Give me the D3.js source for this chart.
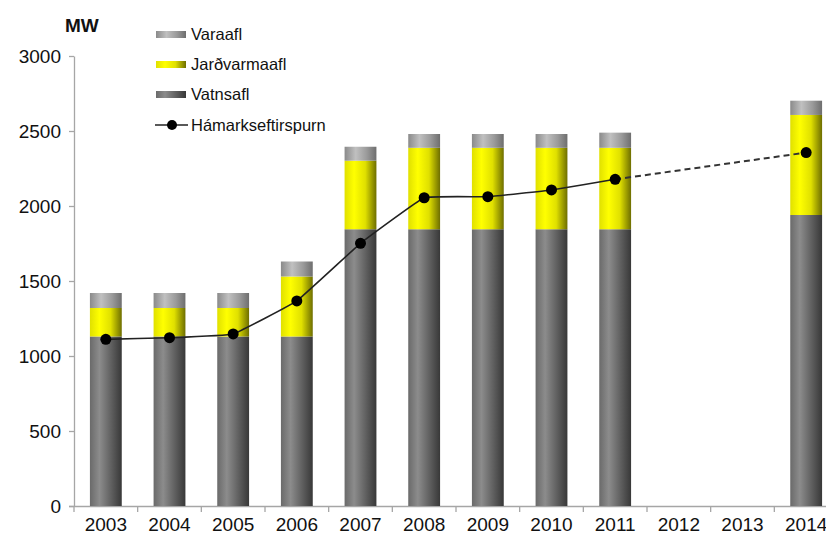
<!DOCTYPE html>
<html><head><meta charset="utf-8">
<script src="https://cdn.jsdelivr.net/npm/d3@7"></script>
<style>
body{margin:0;background:#fff;}
svg{display:block;font-family:"Liberation Sans",Arial,sans-serif;}
</style></head>
<body>
<svg id="c" width="826" height="538"></svg>
<script>
const years = ["2003","2004","2005","2006","2007","2008","2009","2010","2011","2012","2013","2014"];
const vatnsafl = [1130,1130,1130,1130,1845,1845,1845,1845,1845,null,null,1940];
const jardvarmaafl = [190,190,190,400,457,543,543,543,543,null,null,667];
const varaafl = [100,100,100,100,93,92,92,92,101,null,null,95];
const demand = [1111,1122,1147,1367,1751,2055,2062,2107,2178,null,null,2356];
const yTicks = [0,500,1000,1500,2000,2500,3000];
const seriesNames = ["Vatnsafl","Jarðvarmaafl","Varaafl"];
const demandName = "Hámarkseftirspurn";

const svg = d3.select("#c");
const defs = svg.append("defs");
function grad(id, stops){
  const g = defs.append("linearGradient").attr("id",id).attr("x1","0%").attr("x2","100%").attr("y1","0%").attr("y2","0%");
  stops.forEach(s=>g.append("stop").attr("offset",s[0]).attr("stop-color",s[1]));
}
grad("gDark",[["0%","#6a6a6a"],["30%","#8c8c8c"],["65%","#626262"],["100%","#383838"]]);
grad("gYellow",[["0%","#e0e000"],["30%","#ffff00"],["65%","#e0e000"],["100%","#6e6e00"]]);
grad("gLight",[["0%","#8a8a8a"],["35%","#c0c0c0"],["70%","#9a9a9a"],["100%","#6e6e6e"]]);
const fills = ["url(#gDark)","url(#gYellow)","url(#gLight)"];

const x = d3.scaleBand().domain(years).range([74,838]).paddingInner(0.5).paddingOuter(0.25);
const y = d3.scaleLinear().domain([0,3000]).range([506,56]);
const fs = 19;

// y axis
const ya = svg.append("g").attr("transform","translate(74,0)")
  .call(d3.axisLeft(y).tickValues(yTicks).tickFormat(d3.format("d")).tickSize(5).tickPadding(8).tickSizeOuter(0));
ya.select(".domain").attr("stroke","#a6a6a6").attr("stroke-width",1.3);
ya.selectAll(".tick line").attr("stroke","#a6a6a6").attr("stroke-width",1.3);
ya.selectAll(".tick text").attr("font-size",fs).attr("fill","#111").attr("font-family","Liberation Sans, Arial");

// x axis
const xa = svg.append("g").attr("transform","translate(0,506)")
  .call(d3.axisBottom(x).tickSize(0).tickPadding(12).tickSizeOuter(0));
xa.select(".domain").attr("stroke","#a6a6a6").attr("stroke-width",1.3).attr("d","M69,0.5H826");
xa.selectAll(".tick text").attr("font-size",fs).attr("fill","#111").attr("font-family","Liberation Sans, Arial");
const step = x.step();
xa.selectAll(".bnd").data(d3.range(years.length+1)).enter().append("line")
  .attr("x1",i=>74+i*step).attr("x2",i=>74+i*step).attr("y1",0).attr("y2",6)
  .attr("stroke","#a6a6a6").attr("stroke-width",1.3);

// stacked bars
const rows = years.map((yr,i)=>({year:yr, v:[vatnsafl[i],jardvarmaafl[i],varaafl[i]]}));
rows.forEach(r=>{
  if(r.v[0]==null) return;
  let base = 0;
  r.v.forEach((val,k)=>{
    svg.append("rect").attr("x",x(r.year)).attr("width",x.bandwidth())
      .attr("y",y(base+val)).attr("height",y(base)-y(base+val)).attr("fill",fills[k]);
    base += val;
  });
});

// demand line
const cx = d=>x(d.yr)+x.bandwidth()/2;
const pts = years.map((yr,i)=>({yr,v:demand[i]})).filter(d=>d.v!=null);
const solid = pts.slice(0,9);
const line = d3.line().x(cx).y(d=>y(d.v)).curve(d3.curveCardinal.tension(0.75));
svg.append("path").attr("d",line(solid)).attr("fill","none").attr("stroke","#222").attr("stroke-width",1.6);
const dashed = pts.slice(8);
svg.append("path").attr("d",d3.line().x(cx).y(d=>y(d.v))(dashed))
  .attr("fill","none").attr("stroke","#333").attr("stroke-width",2).attr("stroke-dasharray","6,4");
svg.selectAll(".pt").data(pts).enter().append("circle")
  .attr("cx",cx).attr("cy",d=>y(d.v)).attr("r",5.5).attr("fill","#000");

// MW label
svg.append("text").attr("x",65).attr("y",32).attr("font-size",19).attr("font-weight","bold").attr("fill","#111").text("MW");

// legend
const legItems = [[seriesNames[2],fills[2]],[seriesNames[1],fills[1]],[seriesNames[0],fills[0]]];
legItems.forEach((it,i)=>{
  const cy = 34 + i*30;
  svg.append("rect").attr("x",156).attr("y",cy-3).attr("width",30).attr("height",7).attr("fill",it[1]);
  svg.append("text").attr("x",191).attr("y",cy+6).attr("font-size",16.5).attr("fill","#111").text(it[0]);
});
const ly = 125;
svg.append("line").attr("x1",155).attr("x2",188).attr("y1",ly).attr("y2",ly).attr("stroke","#222").attr("stroke-width",1.6);
svg.append("circle").attr("cx",172).attr("cy",ly).attr("r",5).attr("fill","#000");
svg.append("text").attr("x",191).attr("y",ly+6).attr("font-size",16.5).attr("fill","#111").text(demandName);
</script>
</body></html>
